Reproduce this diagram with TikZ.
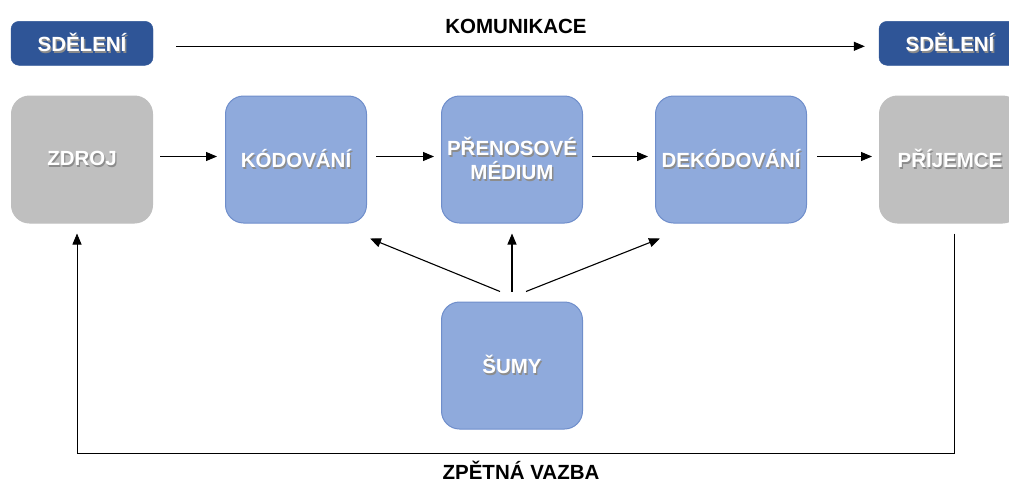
\documentclass[tikz,border=0pt]{standalone}
\usepackage{fontspec}
\setmainfont{Liberation Sans}
\usepackage{xcolor}
\usetikzlibrary{positioning}
\usetikzlibrary{arrows.meta}
\definecolor{msgblue}{HTML}{2F5597}
\definecolor{stageblue}{HTML}{8FAADC}
\definecolor{stageedge}{HTML}{6F8ECB}
\definecolor{endgray}{HTML}{BFBFBF}
\newcommand{\shd}[1]{\makebox[0pt][l]{\hspace{1.3pt}\raisebox{-1.3pt}{\color{black!45}#1}}#1}
\tikzset{
	stage/.style={
		rectangle,
		align=center,
		fill=stageblue,
		draw=stageedge,
		line width=1pt,
		text=white,
		minimum width=141pt,
		minimum height=127pt,
		inner sep=4pt,
		rounded corners=18pt,
		font=\fontsize{20.5}{24}\selectfont\bfseries
	},
	endpoint/.style={
		stage,
		fill=endgray,
		draw=endgray
	},
	message/.style={
		rectangle,
		align=center,
		fill=msgblue,
		draw=msgblue,
		text=white,
		minimum width=142pt,
		minimum height=44pt,
		rounded corners=8pt,
		font=\fontsize{20.5}{24}\selectfont\bfseries
	},
	flow/.style={
		-{Triangle[length=11pt,width=9pt]},
		line width=1.1pt
	},
	caption/.style={
		font=\fontsize{20.5}{24}\selectfont\bfseries
	}
}

\begin{document}
\begin{tikzpicture}[x=1pt,y=1pt,node distance=72pt]
	\useasboundingbox (0,0) rectangle (1009,-482);
	\clip (0,0) rectangle (1009,-482);
	
	% main chain
	\node[endpoint] (zdroj) at (82,-159.5) {\shd{ZDROJ}};
	\node[stage, right=of zdroj] (kodovani) {\shd{KÓDOVÁNÍ}};
	\node[stage, right=74pt of kodovani] (prenos) {\shd{PŘENOSOVÉ}\\ \shd{MÉDIUM}};
	\node[stage, minimum width=151pt, right=of prenos] (dekodovani) {\shd{DEKÓDOVÁNÍ}};
	\node[endpoint, right=of dekodovani] (prijemce) {\shd{PŘÍJEMCE}};
	\node[stage, below=78pt of prenos] (sumy) {\shd{ŠUMY}};
	
	% messages
	\node[message, above=30pt of zdroj] (sdeleniL) {\shd{SDĚLENÍ}};
	\node[message, above=30pt of prijemce] (sdeleniR) {\shd{SDĚLENÍ}};
	
	\draw [flow, shorten <=23pt, shorten >=14pt] ([yshift=-3pt]sdeleniL.east) -- node[caption, above=9pt] {KOMUNIKACE} ([yshift=-3pt]sdeleniR.west);
	
	\draw [flow, shorten <=7pt, shorten >=8pt] ([yshift=3pt]zdroj.east) -- ([yshift=3pt]kodovani.west);
	\draw [flow, shorten <=9pt, shorten >=7pt] ([yshift=3pt]kodovani.east) -- ([yshift=3pt]prenos.west);
	\draw [flow, shorten <=9pt, shorten >=7pt] ([yshift=3pt]prenos.east) -- ([yshift=3pt]dekodovani.west);
	\draw [flow, shorten <=10pt, shorten >=7pt] ([yshift=3pt]dekodovani.east) -- ([yshift=3pt]prijemce.west);
	
	% noise
	\draw [flow] ([xshift=-12pt,yshift=10pt]sumy.north) -- ([xshift=3pt,yshift=-15pt]kodovani.south east);
	\draw [flow, shorten <=10pt, shorten >=10pt] (sumy.north) -- (prenos.south);
	\draw [flow] ([xshift=14pt,yshift=10pt]sumy.north) -- ([xshift=5pt,yshift=-15pt]dekodovani.south west);
	
	% feedback
	\coordinate (fbR) at ([xshift=4pt,yshift=-10pt]prijemce.south);
	\coordinate (fbL) at ([xshift=-5pt,yshift=-10pt]zdroj.south);
	\draw [flow, line width=0.8pt] (fbR) -- ++(0,-220) -| (fbL);
	\node[caption] (zpetna) at (521,-470) {ZPĚTNÁ VAZBA};
\end{tikzpicture}
\end{document}
